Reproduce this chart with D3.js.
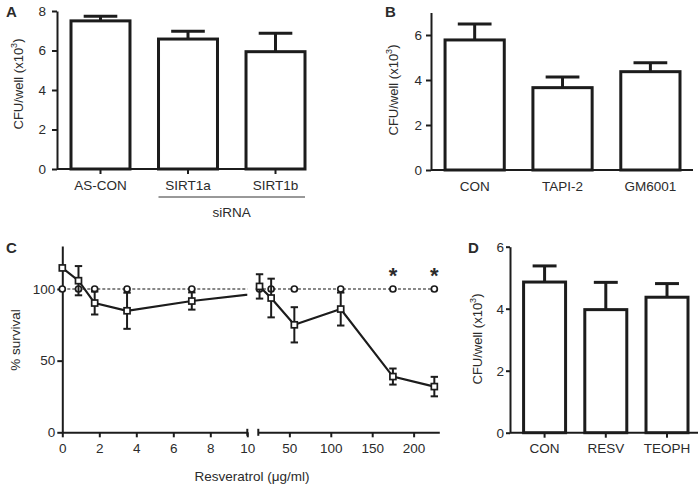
<!DOCTYPE html>
<html><head><meta charset="utf-8">
<script src="https://cdn.jsdelivr.net/npm/d3@7"></script>
<style>
body{margin:0;background:#fff}
text{font-family:"Liberation Sans",Arial,Helvetica,sans-serif;fill:#2b2b2b}
</style>
</head><body>
<svg id="chart" width="700" height="484"></svg>
<script>
// ---------- DATA ----------
const catsA = ["AS-CON", "SIRT1a", "SIRT1b"];
const meanA = [7.50, 6.58, 5.94];
const errA  = [0.23, 0.39, 0.93];
const ticksA = [0, 2, 4, 6, 8];

const catsB = ["CON", "TAPI-2", "GM6001"];
const meanB = [5.78, 3.66, 4.37];
const errB  = [0.71, 0.47, 0.40];
const ticksB = [0, 2, 4, 6];

const catsD = ["CON", "RESV", "TEOPH"];
const meanD = [4.86, 3.97, 4.37];
const errD  = [0.52, 0.88, 0.44];
const ticksD = [0, 2, 4, 6];

const concC    = [0, 0.875, 1.75, 3.5, 7, 14, 28, 56, 112, 175, 225];
const treatedC = [114.7, 105.8, 90.2, 84.8, 91.6, 101.8, 93.7, 75.0, 86.0, 38.9, 31.9];
const treatErr = [0, 10.2, 8.0, 12.6, 6.0, 8.5, 13.5, 12.3, 11.5, 5.6, 6.8];
const controlC = [100, 100, 100, 100, 100, 100, 100, 100, 100, 100, 100];
const starConc = [175, 225];
const ticksCY  = [0, 50, 100];
const ticksCL  = [0, 2, 4, 6, 8, 10];
const ticksCR  = [50, 100, 150, 200];

// ---------- DRAW ----------
const svg = d3.select("#chart");
const INK = "#1c1c1c";
const FS = 13.5;
const fmt = d3.format("d");

function styleAxis(g, sw) {
  g.selectAll("path.domain").attr("stroke", INK).attr("stroke-width", sw);
  g.selectAll(".tick line").attr("stroke", INK).attr("stroke-width", sw);
  g.selectAll(".tick text").attr("font-size", FS).attr("fill", "#2b2b2b")
    .attr("font-family", '"Liberation Sans",Arial,sans-serif');
}

function barPanel(c) {
  const g = svg.append("g");
  const y = d3.scaleLinear().domain([0, c.yMax]).range([c.y0, c.yTop]);
  const x = d3.scaleBand().domain(c.cats).range([c.ax, c.bandEnd])
    .paddingInner(c.pi).paddingOuter(c.po).align(1);
  const data = c.cats.map((k, i) => ({k, m: c.mean[i], e: c.err[i]}));

  // y axis
  const ya = g.append("g").attr("transform", `translate(${c.ax},0)`)
    .call(d3.axisLeft(y).tickValues(c.ticks).tickFormat(fmt).tickSize(c.tsY).tickSizeOuter(0).tickPadding(c.tpY));
  styleAxis(ya, 2);
  // x axis
  const xa = g.append("g").attr("transform", `translate(0,${c.y0})`)
    .call(d3.axisBottom(x).tickSize(c.tsX).tickSizeOuter(0).tickPadding(11 - c.tsX));
  xa.select("path.domain").remove();
  styleAxis(xa, 2);
  g.append("line").attr("x1", c.ax).attr("x2", c.axEnd).attr("y1", c.y0).attr("y2", c.y0)
    .attr("stroke", INK).attr("stroke-width", 2);

  // error bars (upper only)
  const bw = x.bandwidth(), cw = bw * 0.57;
  data.forEach(d => {
    const cx = x(d.k) + bw / 2;
    g.append("line").attr("x1", cx).attr("x2", cx).attr("y1", y(d.m)).attr("y2", y(d.m + d.e))
      .attr("stroke", INK).attr("stroke-width", 3);
    g.append("line").attr("x1", cx - cw / 2).attr("x2", cx + cw / 2)
      .attr("y1", y(d.m + d.e)).attr("y2", y(d.m + d.e))
      .attr("stroke", INK).attr("stroke-width", 3);
  });
  // bars
  g.selectAll("rect.bar").data(data).join("rect").attr("class", "bar")
    .attr("x", d => x(d.k)).attr("width", bw)
    .attr("y", d => y(d.m)).attr("height", d => y(0) - y(d.m))
    .attr("fill", "#fff").attr("stroke", INK).attr("stroke-width", 3);

  // y label
  const yl = g.append("text").attr("transform", `translate(${c.ylx},${c.yly}) rotate(-90)`)
    .attr("text-anchor", "middle").attr("font-size", 13).attr("dy", "0.35em");
  yl.append("tspan").text("CFU/well (x10");
  yl.append("tspan").text("3").attr("font-size", 9).attr("dy", "-0.6em");
  yl.append("tspan").text(")").attr("dy", "0.4em");
  // panel letter
  g.append("text").attr("x", c.lx).attr("y", c.ly).attr("font-weight", "bold")
    .attr("font-size", 15).attr("fill", "#111").text(c.letter);
  return {g, x, y};
}

// Panel A
const pA = barPanel({cats: catsA, mean: meanA, err: errA, yMax: 8, ticks: ticksA,
  y0: 169, yTop: 11, ax: 57, bandEnd: 305, axEnd: 305, pi: 0.326, po: 0.08,
  tsY: 5, tpY: 6, tsX: 5, ylx: 18, yly: 84, lx: 6, ly: 17, letter: "A"});
// siRNA bracket
{
  const x = pA.x;
  pA.g.append("line").attr("x1", x("SIRT1a")).attr("x2", x("SIRT1b") + x.bandwidth())
    .attr("y1", 197).attr("y2", 197).attr("stroke", "#333").attr("stroke-width", 1);
  pA.g.append("text").attr("x", (x("SIRT1a") + x("SIRT1b") + x.bandwidth()) / 2).attr("y", 217)
    .attr("text-anchor", "middle").attr("font-size", FS).text("siRNA");
}
// Panel B
barPanel({cats: catsB, mean: meanB, err: errB, yMax: 7, ticks: ticksB,
  y0: 170, yTop: 12.5, ax: 431, bandEnd: 680, axEnd: 693, pi: 0.326, po: 0.08,
  tsY: 5, tpY: 4, tsX: 0, ylx: 393, yly: 90, lx: 385, ly: 17, letter: "B"});
// Panel D
barPanel({cats: catsD, mean: meanD, err: errD, yMax: 6, ticks: ticksD,
  y0: 432.7, yTop: 246.7, ax: 510, bandEnd: 688, axEnd: 698, pi: 0.314, po: 0.111,
  tsY: 4, tpY: 2, tsX: 5, ylx: 477, yly: 339, lx: 468, ly: 253, letter: "D"});

// Panel C
{
  const g = svg.append("g");
  const y = d3.scaleLinear().domain([0, 130]).range([432.3, 246]);
  const xL = d3.scaleLinear().domain([0, 10]).range([62.3, 247.3]);
  const xR = d3.scaleLinear().domain([12.5, 231]).range([258.3, 439.3]);
  const y0 = y(0);
  const ya = g.append("g").attr("transform", `translate(${xL(0)},0)`)
    .call(d3.axisLeft(y).tickValues(ticksCY).tickFormat(fmt).tickSize(5).tickSizeOuter(0).tickPadding(2));
  styleAxis(ya, 2);
  const xaL = g.append("g").attr("transform", `translate(0,${y0})`)
    .call(d3.axisBottom(xL).tickValues(ticksCL).tickFormat(fmt).tickSize(5).tickSizeOuter(0).tickPadding(6.5));
  styleAxis(xaL, 2);
  const xaR = g.append("g").attr("transform", `translate(0,${y0})`)
    .call(d3.axisBottom(xR).tickValues(ticksCR).tickFormat(fmt).tickSize(5).tickSizeOuter(0).tickPadding(6.5));
  styleAxis(xaR, 2);
  // break marks
  [xL(10), xR(12.5)].forEach(bx => g.append("line").attr("x1", bx).attr("x2", bx)
    .attr("y1", y0 - 3.5).attr("y2", y0 + 3.5).attr("stroke", INK).attr("stroke-width", 2));

  const defs = svg.append("defs");
  defs.append("clipPath").attr("id", "clipL").append("rect")
    .attr("x", 0).attr("y", 0).attr("width", xL(10)).attr("height", 484);
  defs.append("clipPath").attr("id", "clipR").append("rect")
    .attr("x", xR(12.5)).attr("y", 0).attr("width", 700 - xR(12.5)).attr("height", 484);

  const pts = concC.map((c, i) => ({c, t: treatedC[i], e: treatErr[i], k: controlC[i]}));
  [[xL, "clipL"], [xR, "clipR"]].forEach(([xs, clip]) => {
    const lg = g.append("g").attr("clip-path", `url(#${clip})`);
    lg.append("path").datum(pts)
      .attr("d", d3.line().x(d => xs(d.c)).y(d => y(d.k)))
      .attr("fill", "none").attr("stroke", "#111").attr("stroke-width", 1.1)
      .attr("stroke-dasharray", "3,2");
    lg.append("path").datum(pts)
      .attr("d", d3.line().x(d => xs(d.c)).y(d => y(d.t)))
      .attr("fill", "none").attr("stroke", INK).attr("stroke-width", 2.2);
  });
  const px = c => c <= 10 ? xL(c) : xR(c);
  // control circles
  g.selectAll("circle.ctl").data(pts).join("circle").attr("class", "ctl")
    .attr("cx", d => px(d.c)).attr("cy", d => y(d.k)).attr("r", 3)
    .attr("fill", "#fff").attr("stroke", INK).attr("stroke-width", 1.7);
  // error bars
  pts.filter(d => d.e > 0).forEach(d => {
    const cx = px(d.c);
    g.append("line").attr("x1", cx).attr("x2", cx).attr("y1", y(d.t - d.e)).attr("y2", y(d.t + d.e))
      .attr("stroke", INK).attr("stroke-width", 2);
    [d.t - d.e, d.t + d.e].forEach(v => g.append("line")
      .attr("x1", cx - 3.7).attr("x2", cx + 3.7).attr("y1", y(v)).attr("y2", y(v))
      .attr("stroke", INK).attr("stroke-width", 2));
  });
  // treated squares
  g.selectAll("rect.trt").data(pts).join("rect").attr("class", "trt")
    .attr("x", d => px(d.c) - 3).attr("y", d => y(d.t) - 3).attr("width", 6).attr("height", 6)
    .attr("fill", "#fff").attr("stroke", INK).attr("stroke-width", 1.7);
  // asterisks
  g.selectAll("text.star").data(starConc).join("text").attr("class", "star")
    .attr("x", d => xR(d)).attr("y", 283).attr("text-anchor", "middle")
    .attr("font-size", 22).attr("font-weight", "bold").attr("fill", "#111").text("*");
  // labels
  g.append("text").attr("transform", `translate(15,340) rotate(-90)`)
    .attr("text-anchor", "middle").attr("dy", "0.35em").attr("font-size", 13.5).text("% survival");
  g.append("text").attr("x", 252).attr("y", 481).attr("text-anchor", "middle")
    .attr("font-size", 13.5).text("Resveratrol (μg/ml)");
  g.append("text").attr("x", 6).attr("y", 253).attr("font-weight", "bold")
    .attr("font-size", 15).attr("fill", "#111").text("C");
}
</script>
</body></html>
